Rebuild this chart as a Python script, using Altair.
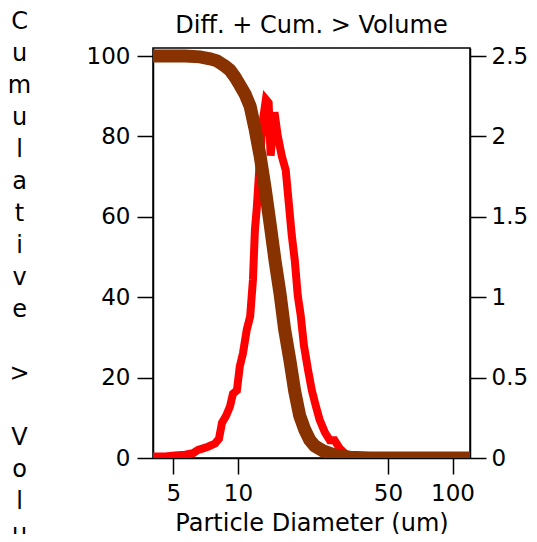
import altair as alt
import pandas as pd

# Differential volume (right axis)
diff_d = [4.02, 4.58, 5.09, 5.67, 6.18, 6.52, 6.88, 7.25, 7.82, 8.16, 8.43, 8.79,
          9.18, 9.48, 9.89, 10.2, 10.55, 11.0, 11.4, 11.75, 12.0, 12.25, 12.65,
          13.07, 13.5, 13.9, 14.2, 14.8, 15.3, 16.0, 16.7, 17.3, 17.8, 18.4, 19.0,
          19.6, 20.3, 21.2, 22.1, 23.0, 24.0, 25.4, 26.8, 28.2, 29.8, 31.4, 33.2,
          36.9, 120.6]
diff_v = [0.01, 0.01, 0.015, 0.02, 0.03, 0.05, 0.06, 0.07, 0.09, 0.12, 0.22, 0.26,
          0.32, 0.40, 0.42, 0.57, 0.65, 0.80, 0.88, 1.11, 1.42, 1.56, 1.85,
          2.10, 2.23, 2.21, 1.88, 2.15, 2.01, 1.88, 1.79, 1.57, 1.39, 1.23, 1.01,
          0.89, 0.70, 0.55, 0.42, 0.33, 0.24, 0.16, 0.11, 0.11, 0.06, 0.03, 0.01,
          0.0, 0.0]

# Cumulative > volume (left axis)
cum_d = [4.02, 5.67, 6.66, 7.41, 7.99, 8.70, 9.18, 9.68, 10.2, 10.8, 11.4, 12.0,
         12.7, 13.4, 14.1, 14.9, 15.7, 16.5, 17.5, 18.4, 19.4, 20.5, 21.6, 22.8,
         24.9, 28.3, 33.2, 41.1, 120.6]
cum_v = [100, 100, 99.8, 99.3, 98.8, 97.5, 96.5, 94.8, 92.8, 90.5, 87.5, 82,
         75, 67, 58.5, 49, 41, 32, 24, 16.5, 10.5, 7, 4.5, 3,
         1.8, 0.7, 0.2, 0, 0]

x_ticks = [5, 10, 50, 100]
left_ticks = [0, 20, 40, 60, 80, 100]
right_ticks = [0, 0.5, 1, 1.5, 2, 2.5]

title_text = "Diff. + Cum. > Volume"
x_title = "Particle Diameter (um)"
left_title = [ch if ch != " " else "\u2800" for ch in "Cumulative > Volume"]

diff_df = pd.DataFrame({"d": diff_d, "v": diff_v})
cum_df = pd.DataFrame({"d": cum_d, "c": cum_v})

FONT = "DejaVu Sans"
FS = 24
LFS = 23

x_scale = alt.Scale(type="log", domain=[4.02, 120.6], nice=False)
x_axis = alt.Axis(values=x_ticks, title=x_title, format="d",
                  titleY=72, titleBaseline="alphabetic",
                  labelBaseline="alphabetic", labelPadding=26)

red = alt.Chart(diff_df).mark_line(color="#ff0000", strokeWidth=8, clip=True).encode(
    x=alt.X("d:Q", scale=x_scale, axis=x_axis),
    y=alt.Y("v:Q", scale=alt.Scale(domain=[0, 2.55], nice=False, zero=True),
            axis=alt.Axis(orient="right", values=right_ticks, title=None,
                          labelPadding=5, format="~g")),
)

brown = alt.Chart(cum_df).mark_line(color="#873200", strokeWidth=13, clip=True).encode(
    x=alt.X("d:Q", scale=x_scale, axis=x_axis),
    y=alt.Y("c:Q", scale=alt.Scale(domain=[0, 102], nice=False, zero=True),
            axis=alt.Axis(orient="left", values=left_ticks, title=left_title,
                          labelPadding=7, titleAngle=0, titleX=-134, titleY=-20,
                          titleAlign="center", titleBaseline="alphabetic",
                          titleLineHeight=32)),
)

chart = alt.layer(red, brown).resolve_scale(y="independent").properties(
    width=317, height=410,
    background="white",
    autosize=alt.AutoSizeParams(type="none"),
    padding={"left": 145, "top": 40, "right": 59, "bottom": 76},
    title=alt.Title(title_text, anchor="middle", frame="group", offset=-48,
                    baseline="alphabetic", font=FONT, fontSize=FS,
                    fontWeight="normal", color="black"),
).configure_view(stroke="black", strokeWidth=1.5).configure_axis(
    grid=False, domainColor="black", domainWidth=1.5, tickColor="black",
    tickWidth=1.5, tickSize=16, labelFont=FONT, labelFontSize=LFS,
    labelColor="black", titleFont=FONT, titleFontSize=FS,
    titleFontWeight="normal", titleColor="black", labelFlush=False,
    labelOverlap=False,
)

chart.save("out.html", embed_options={"renderer": "svg", "actions": False})
